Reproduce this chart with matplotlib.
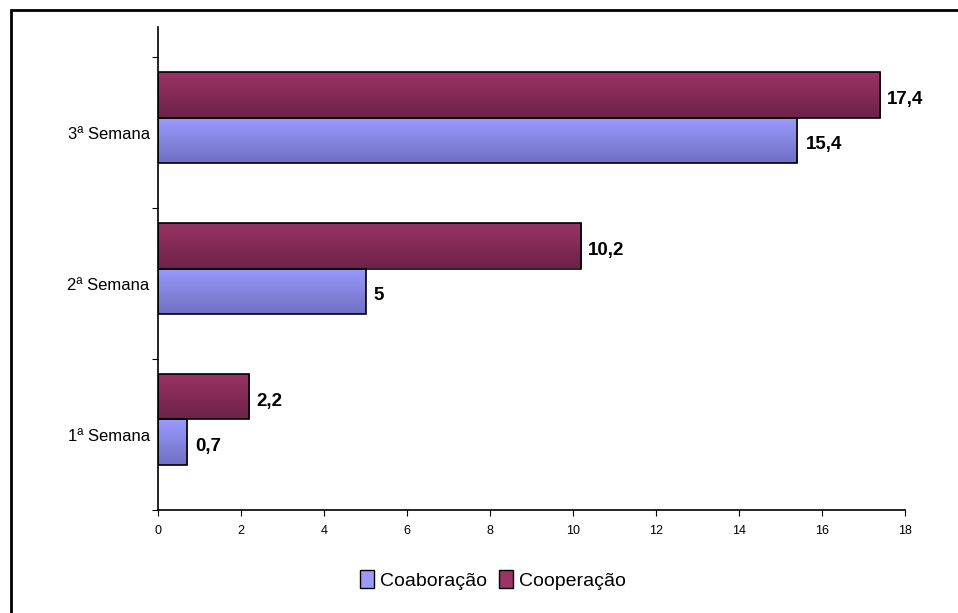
import matplotlib.pyplot as plt
import matplotlib.patches as mpatches
from matplotlib.colors import LinearSegmentedColormap
import numpy as np

plt.rcParams['font.family'] = ['Liberation Sans', 'DejaVu Sans']

semanas = ["1ª Semana", "2ª Semana", "3ª Semana"]
coaboracao = [0.7, 5, 15.4]
cooperacao = [2.2, 10.2, 17.4]
rotulos_coab = ["0,7", "5", "15,4"]
rotulos_coop = ["2,2", "10,2", "17,4"]
x_ticks = [0, 2, 4, 6, 8, 10, 12, 14, 16, 18]

cor_coab = ("#9a9aff", "#7070c4")
cor_coop = ("#9a3366", "#6e2248")


# bar with a vertical gradient (light on top, darker bottom)
def gradient_bar(ax, x0, y, w, h, cores):
    cmap = LinearSegmentedColormap.from_list("g", [cores[1], cores[0]])
    grad = np.linspace(0, 1, 64).reshape(-1, 1)
    rect = mpatches.Rectangle((x0, y - h / 2), w, h, facecolor="none",
                              edgecolor="black", linewidth=1.2, zorder=3)
    ax.add_patch(rect)
    im = ax.imshow(grad, cmap=cmap, aspect="auto", origin="lower",
                   extent=(x0, x0 + w, y - h / 2, y + h / 2), zorder=2)
    im.set_clip_path(rect)


fig = plt.figure(figsize=(9.58, 6.13), dpi=100)
ax = fig.add_axes([158 / 958, (613 - 510) / 613, (905 - 158) / 958, (510 - 27) / 613])

# outer frame of the chart area
fig.patches.append(mpatches.Rectangle((11 / 958, -0.1), 1.2, (613 - 9.5) / 613 + 0.1,
                                      transform=fig.transFigure, fill=False,
                                      edgecolor="black", linewidth=2))

h = 0.3
for i in range(len(semanas)):
    gradient_bar(ax, 0, i - 0.05, coaboracao[i], h, cor_coab)
    gradient_bar(ax, 0, i + 0.25, cooperacao[i], h, cor_coop)
    ax.annotate(rotulos_coab[i], (coaboracao[i], i - 0.08), xytext=(6, 0),
                textcoords="offset points", va="center", ha="left",
                fontsize=13.5, fontweight="bold")
    ax.annotate(rotulos_coop[i], (cooperacao[i], i + 0.22), xytext=(5, 0),
                textcoords="offset points", va="center", ha="left",
                fontsize=13.5, fontweight="bold")

ax.set_xlim(0, 18)
ax.set_ylim(-0.5, 2.7)
ax.set_xticks(x_ticks)
ax.set_xticklabels([str(t) for t in x_ticks], fontsize=9)
ax.set_yticks([-0.5, 0.5, 1.5, 2.5])
ax.set_yticklabels([])
ax.set_yticks(range(len(semanas)), minor=True)
ax.set_yticklabels(semanas, minor=True, fontsize=12)
ax.tick_params(axis="y", which="minor", length=0, pad=6)
ax.tick_params(axis="y", which="major", length=4, direction="out")
ax.tick_params(axis="x", length=4, direction="out", pad=7)

for s in ["top", "right"]:
    ax.spines[s].set_visible(False)
ax.spines["left"].set_linewidth(1.2)
ax.spines["bottom"].set_linewidth(1.2)

handles = [mpatches.Patch(facecolor=cor_coab[0], edgecolor="black", label="Coaboração"),
           mpatches.Patch(facecolor=cor_coop[0], edgecolor="black", label="Cooperação")]
fig.legend(handles=handles, loc="center", bbox_to_anchor=(493 / 958, 1 - 580 / 613),
           ncol=2, frameon=False, fontsize=14, handlelength=0.75, handleheight=1.0,
           handletextpad=0.3, columnspacing=0.6)

fig.savefig("out.png", dpi=100)
